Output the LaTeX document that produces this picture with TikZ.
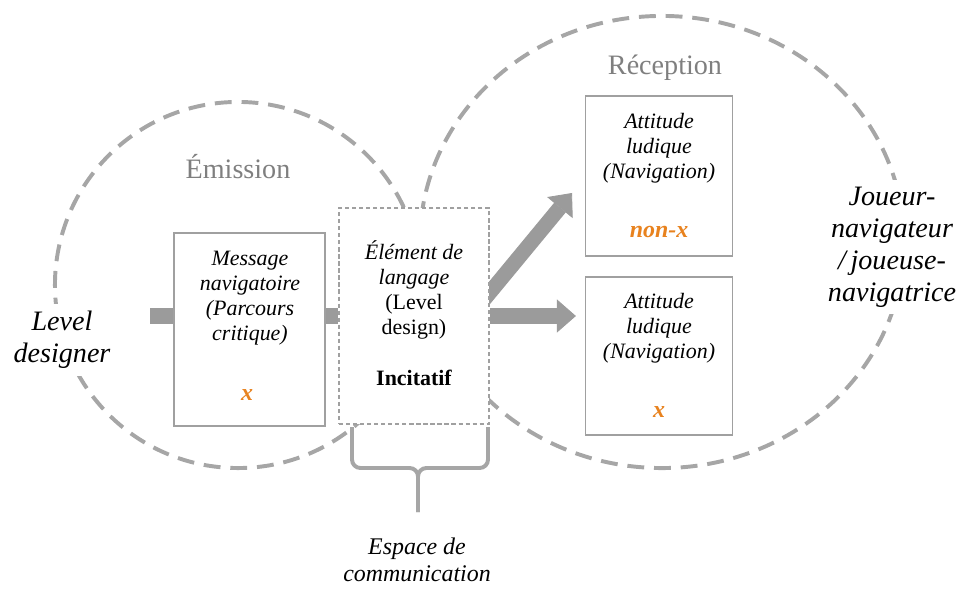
\documentclass[tikz,border=0pt]{standalone}
\usepackage{fontspec}
\setmainfont{Liberation Serif}
\usetikzlibrary{calc,arrows.meta,backgrounds}
\definecolor{ringgray}{HTML}{A6A6A6}
\definecolor{boxgray}{HTML}{A0A0A0}
\definecolor{arrowgray}{HTML}{9B9B9B}
\definecolor{labelgray}{HTML}{7F7F7F}
\definecolor{markorange}{HTML}{E8821E}

\begin{document}
\begin{tikzpicture}[x=0.025cm, y=-0.025cm,
    ring/.style={draw=ringgray, line width=2.8pt, dash pattern=on 12pt off 7pt},
    msgbox/.style={draw=boxgray, line width=0.8pt, fill=white, rectangle, inner sep=0pt},
    elembox/.style={msgbox, dash pattern=on 3pt off 2pt},
    smalltxt/.style={align=center, inner sep=0pt, font=\fontsize{15.6}{17.8}\selectfont},
    bigtxt/.style={align=center, inner sep=5pt, fill=white, font=\fontsize{20}{22.8}\selectfont\itshape},
    ringlabel/.style={text=labelgray, inner sep=0pt, font=\fontsize{20}{24}\selectfont},
    xmark/.style={text=markorange, inner sep=0pt, font=\fontsize{17}{20}\selectfont\bfseries\itshape},
    stub/.style={draw=arrowgray, line width=10.7pt},
    blockarrow/.style={stub, -{Triangle[length=13.5pt, width=23.5pt, line width=0.6pt]}},
    curlybrace/.style={draw=ringgray, line width=2.8pt, rounded corners=6pt}]
    \useasboundingbox (0,0) rectangle (960,590);

    % emission side
    \node[ringlabel] (emit) at (238,167) {Émission};
    \node[bigtxt] (designer) at (62,340) {Level\\designer};
    \node[msgbox, minimum width=3.775cm, minimum height=4.825cm] (msg) at (249.5,329.5) {};
    \node[smalltxt] (msgtxt) at (250,298) {\textit{Message}\\\textit{navigatoire}\\\textit{(Parcours}\\\textit{critique)}};
    \node[xmark] (msgmark) at (247,395) {x};

    % shared element
    \node[elembox, minimum width=3.75cm, minimum height=5.4cm] (elem) at (414,316) {};
    \node[smalltxt] (elemtxt) at (414,290) {\textit{Élément de}\\\textit{langage}\\(Level\\design)};
    \node[smalltxt, font=\fontsize{15.6}{17.8}\selectfont\bfseries] (incit) at (414,378) {Incitatif};

    % reception side
    \node[ringlabel] (recv) at (665,68) {Réception};
    \node[bigtxt] (player) at (892,247) {Joueur-\\navigateur\\/\,joueuse-\\navigatrice};
    \foreach \name/\yc/\boxh/\val in {top/176/4cm/non-x, bot/356/3.95cm/x}{
      \node[msgbox, minimum width=3.675cm, minimum height=\boxh] (\name) at (659,\yc) {};
      \node[smalltxt] (txt\name) at (659,\yc-28) {\textit{Attitude}\\\textit{ludique}\\\textit{(Navigation)}};
      \node[xmark] (mark\name) at (659,\yc+56) {\val};
    }

    % brace and its label
    \draw[curlybrace] (352,427) |- (418,468) -- (418,512);
    \draw[curlybrace] (488,427) |- (418,468) -- (418,512);
    \node[align=center, inner sep=0pt, font=\fontsize{17}{19.5}\selectfont\itshape] (space) at (417,560) {Espace de\\communication};

    \coordinate (src) at (150,316);
    \coordinate (diagtip) at (572,193);
    \begin{scope}[on background layer]
      \draw[ring] (238,285) circle [radius=4.575cm];
      \draw[ring] (662,242) ellipse [x radius=6.05cm, y radius=5.65cm];
      \draw[stub] (src) -- (msg.west |- src);
      \draw[stub] (msg.east |- src) -- (elem.west |- src);
      \draw[blockarrow, shorten >=6.4pt] (elem.east) -- (elem.east -| bot.west);
      \draw[blockarrow] ($(elem.east)+(-20,1)$) -- (diagtip);
    \end{scope}
\end{tikzpicture}
\end{document}
